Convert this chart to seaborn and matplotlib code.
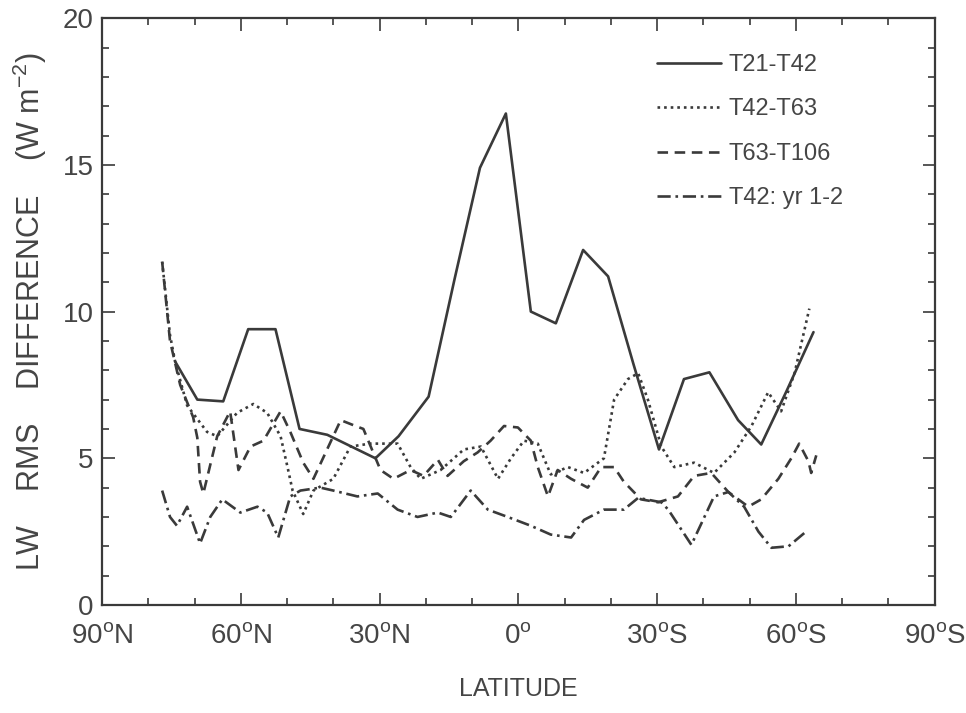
import pandas as pd
import matplotlib
matplotlib.use('Agg')
import matplotlib.pyplot as plt
import seaborn as sns

# latitude in degrees, north positive
lat_t21 = [74.2, 69.4, 63.8, 58.4, 52.5, 47.3, 41.3, 36.1, 30.9, 25.9, 19.4, 13.8, 8.3,
           2.7, -2.7, -8.1, -14.0, -19.4, -24.9, -30.4, -35.8, -41.3, -47.5, -52.5, -58.0, -63.8]
val_t21 = [8.3, 7.0, 6.94, 9.4, 9.4, 6.0, 5.8, 5.4, 5.0, 5.75, 7.1, 11.1, 14.9,
           16.75, 10.0, 9.6, 12.1, 11.2, 8.2, 5.3, 7.7, 7.93, 6.3, 5.47, 7.3, 9.3]

lat_t42 = [77.0, 75.3, 74.2, 71.6, 67.3, 65.1, 60.8, 57.3, 54.3, 51.4, 49.9, 48.8, 46.5,
           44.3, 40.0, 36.3, 32.0, 26.1, 23.3, 21.1, 16.8, 11.8, 8.1, 4.4, 1.6, -1.2, -4.2,
           -7.0, -10.7, -14.2, -18.5, -20.7, -23.7, -25.9, -28.0, -30.9, -33.7, -38.0,
           -42.3, -46.7, -50.4, -54.0, -56.8, -59.7, -62.9]
val_t42 = [11.7, 9.2, 8.3, 6.8, 5.9, 5.75, 6.55, 6.85, 6.55, 5.75, 4.7, 3.9, 3.1,
           3.9, 4.3, 5.4, 5.5, 5.5, 4.7, 4.3, 4.6, 5.3, 5.4, 4.3, 5.0, 5.6, 5.5,
           4.45, 4.7, 4.5, 5.0, 7.0, 7.7, 7.9, 7.0, 5.4, 4.7, 4.85,
           4.5, 5.2, 6.1, 7.25, 6.6, 7.9, 10.1]

lat_t63 = [77.0, 75.3, 73.1, 70.3, 69.4, 68.8, 68.1, 65.1, 62.3, 60.5, 57.9, 55.1, 51.4,
           49.3, 46.5, 44.3, 38.4, 35.2, 33.5, 29.8, 27.0, 23.3, 20.5, 17.4, 15.3, 11.8,
           8.8, 6.0, 3.1, 0.1, -2.7, -4.2, -6.4, -8.5, -11.4, -15.0, -17.9, -20.7, -22.8,
           -26.5, -30.2, -34.5, -38.0, -41.7, -45.4, -49.7, -52.5, -56.2, -59.0, -60.7,
           -62.7, -63.3, -64.4]
val_t63 = [11.7, 9.0, 7.5, 6.4, 5.7, 4.2, 3.8, 5.75, 6.6, 4.6, 5.4, 5.6, 6.6,
           5.9, 4.85, 4.3, 6.3, 6.1, 6.0, 4.6, 4.3, 4.6, 4.4, 4.95, 4.4, 4.9,
           5.2, 5.6, 6.1, 6.05, 5.6, 4.7, 3.7, 4.6, 4.3, 4.0, 4.7, 4.7, 4.2,
           3.6, 3.5, 3.7, 4.4, 4.5, 3.85, 3.35, 3.6, 4.3, 5.0, 5.5,
           4.9, 4.5, 5.1]

lat_yr = [77.0, 75.3, 73.8, 71.6, 68.8, 66.6, 64.0, 60.1, 56.4, 54.3, 51.9, 49.3, 47.1,
          42.8, 40.0, 34.8, 30.4, 26.1, 21.8, 17.4, 14.6, 10.3, 6.6, 2.3, -2.7, -7.0,
          -11.4, -14.2, -18.5, -22.8, -25.9, -30.9, -32.4, -37.4, -42.3, -45.4, -48.8,
          -51.9, -54.7, -58.4, -61.8]
val_yr = [3.9, 3.0, 2.7, 3.35, 2.1, 3.0, 3.6, 3.15, 3.35, 3.15, 2.3, 3.7, 3.9,
          4.0, 3.9, 3.7, 3.8, 3.25, 3.0, 3.15, 3.0, 3.9, 3.25, 3.0, 2.7, 2.4,
          2.3, 2.9, 3.25, 3.25, 3.65, 3.5, 3.25, 2.05, 3.7, 3.85, 3.35,
          2.5, 1.95, 2.0, 2.45]

series_names = ['T21-T42', 'T42-T63', 'T63-T106', 'T42: yr 1-2']
lats = [lat_t21, lat_t42, lat_t63, lat_yr]
vals = [val_t21, val_t42, val_t63, val_yr]

x_ticks = [90, 60, 30, 0, -30, -60, -90]
x_ticklabels = ['90$^{\\rm o}$N', '60$^{\\rm o}$N', '30$^{\\rm o}$N', '0$^{\\rm o}$',
                '30$^{\\rm o}$S', '60$^{\\rm o}$S', '90$^{\\rm o}$S']

rows = []
for name, la, va in zip(series_names, lats, vals):
    for a, b in zip(la, va):
        rows.append({'lat': a, 'rms': b, 'run': name})
df = pd.DataFrame(rows)

sns.set_style('ticks')
plt.rcParams['font.family'] = ['Liberation Sans', 'DejaVu Sans']
plt.rcParams['mathtext.fontset'] = 'custom'
plt.rcParams['mathtext.rm'] = 'Liberation Sans'
plt.rcParams['mathtext.it'] = 'Liberation Sans'

ink = '#3a3a3a'
txt = '#454545'
fig = plt.figure(figsize=(9.66, 7.13), dpi=100)
ax = fig.add_axes([0.1056, 0.1515, 0.862, 0.823])

dash_map = {'T21-T42': '', 'T42-T63': (1, 1.5), 'T63-T106': (4, 2.5),
            'T42: yr 1-2': (5, 1.8, 1, 1.8)}
sns.lineplot(data=df, x='lat', y='rms', style='run', style_order=series_names,
             dashes=dash_map, color=ink, linewidth=1.9, estimator=None,
             sort=False, ax=ax)

ax.set_xlim(90, -90)
ax.set_ylim(0, 20)
ax.set_xticks(x_ticks)
ax.set_xticklabels(x_ticklabels)
ax.set_xticks(range(-80, 90, 10), minor=True)
ax.set_yticks([0, 5, 10, 15, 20])
ax.set_yticks(range(0, 21), minor=True)
ax.tick_params(which='both', direction='in', colors=ink, labelcolor=txt,
               right=True, top=True, labelsize=20, width=1.2)
ax.tick_params(which='major', length=9)
ax.tick_params(which='minor', length=5)
ax.tick_params(axis='x', which='major', pad=13)
ax.tick_params(axis='y', which='major', pad=6)
for s in ax.spines.values():
    s.set_color(ink)
    s.set_linewidth(1.6)

ax.set_xlabel('LATITUDE', fontsize=18, color=txt, labelpad=20)
ax.set_ylabel('LW    RMS    DIFFERENCE    (W m$^{-2}$)', fontsize=22, color=txt, labelpad=10)

sns.move_legend(ax, loc='upper left', bbox_to_anchor=(0.655, 0.955), frameon=False,
                title=None, fontsize=17, handlelength=2.7, labelspacing=0.95,
                handletextpad=0.35, borderaxespad=0)
for t in ax.get_legend().get_texts():
    t.set_color(txt)

plt.savefig('out.png', dpi=100)
